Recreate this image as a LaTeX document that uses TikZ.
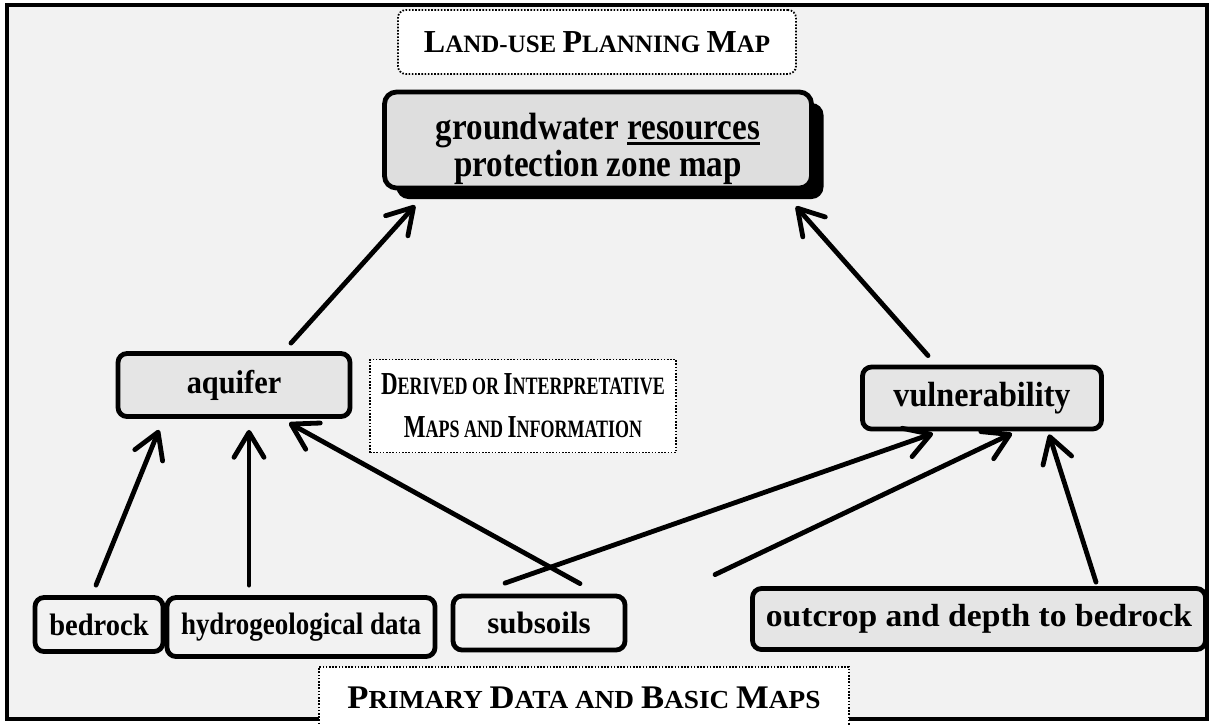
\documentclass[tikz,border=0pt]{standalone}
\usepackage{fontspec}
\setmainfont{Liberation Serif}
\newfontfamily\fsA{Liberation Serif}[FakeStretch=0.87]
\newfontfamily\fsB{Liberation Serif}[FakeStretch=0.92]
\newfontfamily\fsC{Liberation Serif}[FakeStretch=0.72]
\newfontfamily\fsD{Liberation Serif}[FakeStretch=1.05]
\newfontfamily\fsE{Liberation Serif}[FakeStretch=1.0]
\usetikzlibrary{arrows.meta,calc,shadows}
\newcommand{\bigc}[2][32]{{\fontsize{#1}{#1}\selectfont #2}}
\newcommand{\thickul}[1]{\setbox0\hbox{#1}\rlap{\rule[-5.5pt]{\wd0}{2.8pt}}\box0}
\begin{document}
\begin{tikzpicture}[x=1pt,y=-1pt,
 box/.style={draw, line width=4.8pt, rounded corners=9pt, inner sep=0pt, align=center},
 lbl/.style={draw, line width=1.8pt, dash pattern=on 1.6pt off 1.6pt, fill=white, align=center, inner sep=0pt},
 arr/.style={line width=4.8pt, line cap=round, -{Straight Barb[length=25pt,width=30pt,line cap=round,line join=round]}},
]
\useasboundingbox (0,0) rectangle (1212,724);
% frame
\draw[line width=4.8pt, fill=black!5] (7,5) rectangle (1207,719);

% label boxes
\node[lbl, rounded corners=8pt, minimum width=398pt, minimum height=64pt,
  font=\fontsize{25}{30}\selectfont\bfseries] (title) at (597,42)
  {\bigc{L}AND-USE \bigc{P}LANNING \bigc{M}AP};
\node[lbl, minimum width=306pt, minimum height=93pt,
  font=\fsC\fontsize{25}{43}\selectfont\bfseries] (derived) at (523,406)
  {\bigc[32]{D}ERIVED OR \bigc[32]{I}NTERPRETATIVE\\\bigc[32]{M}APS AND \bigc[32]{I}NFORMATION};
\node[lbl, minimum width=530pt, minimum height=62pt, anchor=north west,
  font=\fsD\fontsize{26}{30}\selectfont\bfseries] (primary) at (318,666)
  {\bigc[33]{P}RIMARY \bigc[33]{D}ATA AND \bigc[33]{B}ASIC \bigc[33]{M}APS};

% main box
\node[box, fill=black!13, rounded corners=12pt, font=\fsA\fontsize{38}{36}\selectfont\bfseries,
  minimum width=427pt, minimum height=96pt,
  drop shadow={shadow xshift=12pt, shadow yshift=-11pt, fill=black, opacity=1}] (main) at (598,140)
  {\rule{0pt}{44pt}groundwater \thickul{resources}\\[1pt]protection zone map};

% derived boxes
\node[box, fill=black!10, font=\fsB\fontsize{33}{36}\selectfont\bfseries, minimum width=232pt, minimum height=63pt] (aquifer) at (234,385) {aquifer};
\node[box, fill=black!10, font=\fsB\fontsize{35}{36}\selectfont\bfseries, minimum width=239pt, minimum height=62pt] (vuln) at (982,398) {vulnerability};

% primary boxes
\node[box, font=\fsB\fontsize{31}{32}\selectfont\bfseries, minimum width=128pt, minimum height=54pt] (bedrock) at (99,624.5) {bedrock};
\node[box, font=\fsA\fontsize{31}{32}\selectfont\bfseries, minimum width=268pt, minimum height=59pt] (hydro) at (301,627) {hydrogeological data};
\node[box, font=\fsE\fontsize{31}{32}\selectfont\bfseries, minimum width=172pt, minimum height=54pt] (subsoils) at (539,623) {subsoils};
\node[box, fill=black!10, font=\fsD\fontsize{32}{32}\selectfont\bfseries, minimum width=453pt, minimum height=61pt] (outcrop) at (979,619) {outcrop and depth to bedrock};

% arrows
\draw[arr] ($(aquifer.north)+(57,-8)$) -- ($(main.south west)+(33,15)$);
\draw[arr] ($(vuln.north)+(-54,-9)$) -- ($(main.south east)+(-18,16)$);
\draw[arr] ($(bedrock.north)+(-3,-10)$) -- ($(aquifer.south)+(-75,11)$);
\draw[arr] ($(hydro.north)+(-52,-10)$) -- ($(aquifer.south)+(15,11)$);
\draw[arr] ($(subsoils.north)+(41,-10)$) -- ($(aquifer.south)+(55,4)$);
\draw[arr] ($(hydro.north)+(204,-12)$) -- ($(vuln.south)+(-49,2)$);
\draw[arr] ($(subsoils.north)+(176,-19)$) -- ($(vuln.south)+(30,2)$);
\draw[arr] ($(outcrop.north)+(117,-4)$) -- ($(vuln.south)+(67,3)$);
\end{tikzpicture}
\end{document}
